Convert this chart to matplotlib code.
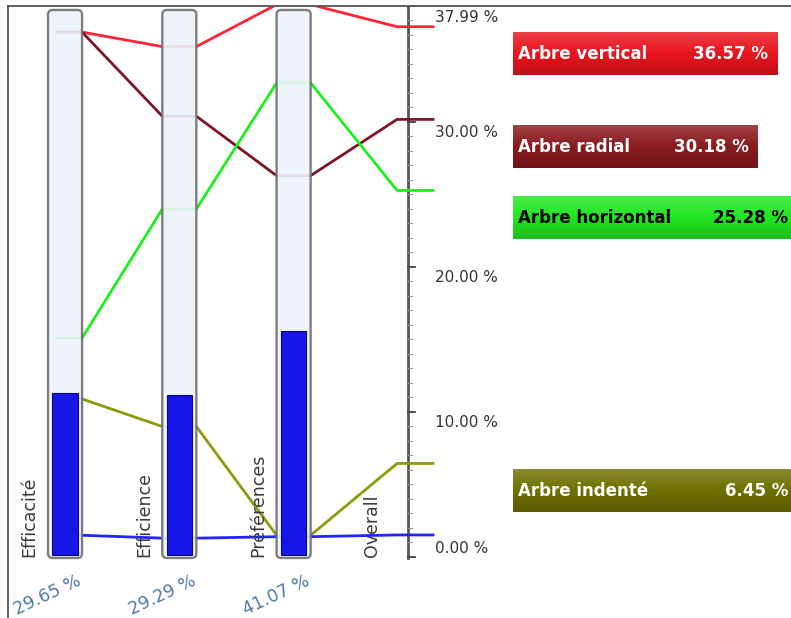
import numpy as np
import matplotlib.pyplot as plt
from matplotlib.patches import FancyBboxPatch
from matplotlib.colors import LinearSegmentedColormap, to_rgb

# criteria (gauges) and their weights
criteria = ['Efficacité', 'Efficience', 'Préférences']
weights = [29.65, 29.29, 41.07]
weight_labels = ['29.65 %', '29.29 %', '41.07 %']

# score of each alternative on each criterion (Efficacité, Efficience, Préférences)
vertical = [36.2, 35.2, 38.1]
radial = [36.2, 30.4, 26.3]
horizontal = [15.1, 24.0, 32.7]
indente = [10.9, 9.0, 1.5]
autre = [1.5, 1.3, 1.4]

alt_names = ['Arbre vertical', 'Arbre radial', 'Arbre horizontal', 'Arbre indenté']
overall = [36.57, 30.18, 25.28, 6.45, 1.52]
overall_labels = ['36.57 %', '30.18 %', '25.28 %', '6.45 %']

overall_ticks = [0, 10, 20, 30, 37.99]
overall_tick_labels = ['0.00 %', '10.00 %', '20.00 %', '30.00 %', '37.99 %']

line_colors = ['#ff2436', '#7c1626', '#1cf01c', '#8c9a0c', '#2424ff']
box_colors = ['#e8141e', '#8a1a1e', '#22e622', '#6e7000']
box_text_colors = ['white', 'white', 'black', 'white']
box_widths = [2.31, 2.14, 2.49, 2.49]

fig = plt.figure(figsize=(7.91, 6.18), dpi=100)
ax = fig.add_axes([8 / 791, 0, 783 / 791, 612 / 618])
ax.set_xlim(-0.499, 6.352)
ax.set_ylim(-4.207, 38.0)
for s in ['right', 'bottom']:
    ax.spines[s].set_visible(False)
for s in ['top', 'left']:
    ax.spines[s].set_color('#555555')
    ax.spines[s].set_linewidth(1.3)
ax.set_xticks([]); ax.set_yticks([])

# gauges live on their own 0-100 scale
ax2 = ax.twinx()
ax2.set_ylim(-11.56, 100.73)
ax2.axis('off')

hw = 0.149
series = [vertical, radial, horizontal, indente, autre]
for j, vals in enumerate(series):
    xs, ys = [], []
    for i, v in enumerate(vals):
        xs += [-0.07 if i == 0 else i - hw, i + hw]
        ys += [v, v]
    xs += [2.905, 3.22]
    ys += [overall[j], overall[j]]
    ax.plot(xs, ys, color=line_colors[j], lw=2, solid_joinstyle='round', zorder=2)

# overall axis
ax.plot([3, 3], [-0.1, overall_ticks[-1]], color='#555555', lw=2, zorder=1)
for v in np.arange(0, 38, 1.0):
    ax.plot([3, 3.035], [v, v], color='#999999', lw=0.8, zorder=1)
for v, lab in zip(overall_ticks, overall_tick_labels):
    ax.plot([3, 3.06], [v, v], color='#444444', lw=1.3, zorder=1)
    ax.text(3.24, v - 0.75 if v > 0 else v + 0.62, lab, ha='left', va='center',
            fontsize=11, color='#333333')

# gauges
for i in range(3):
    g = FancyBboxPatch((i - hw, -0.55), 2 * hw, 100.55,
                       boxstyle='round,pad=0,rounding_size=0.04',
                       mutation_aspect=21, facecolor='#eef3fb', alpha=0.9,
                       edgecolor='#707070', lw=1.7, zorder=2)
    ax2.add_patch(g)
ax2.bar(range(3), weights, width=0.22, color='#1616e8', edgecolor='#08087a',
        lw=0.8, zorder=3)

# vertical category labels
for i, name in enumerate(criteria + ['Overall']):
    ax.text(i - 0.31, 0, name, rotation=90, ha='center', va='bottom',
            fontsize=12.5, color='#3a3a3a')

for i, lab in enumerate(weight_labels):
    ax.text(i - 0.15, -2.62, lab, rotation=25, ha='center', va='center',
            fontsize=12.5, color='#4f78a8')

# legend boxes on the right
for j, name in enumerate(alt_names):
    c = overall[j] - 1.9
    base = np.array(to_rgb(box_colors[j]))
    top = base + (1 - base) * 0.18
    bot = base * 0.82
    cmap = LinearSegmentedColormap.from_list('g', [bot, base, top])
    grad = np.linspace(0, 1, 50).reshape(-1, 1)
    x0 = 3.92
    ax.imshow(grad, cmap=cmap, origin='lower', aspect='auto',
              extent=[x0, x0 + box_widths[j], c - 1.45, c + 1.45], zorder=3)
    ax.text(x0 + 0.045, c, name, ha='left', va='center', fontsize=12,
            fontweight='bold', color=box_text_colors[j], zorder=4)
    ax.text(x0 + box_widths[j] - 0.08, c, overall_labels[j], ha='right', va='center',
            fontsize=12, fontweight='bold', color=box_text_colors[j], zorder=4)

ax.set_xlim(-0.499, 6.352)
ax.set_ylim(-4.207, 38.0)
fig.savefig('out.png', dpi=100)
